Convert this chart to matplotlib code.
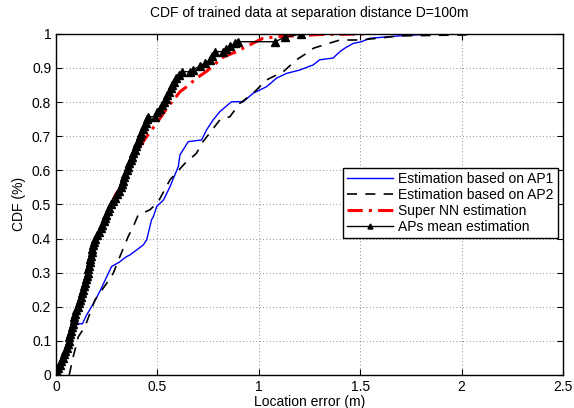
import matplotlib
matplotlib.use('Agg')
import matplotlib.pyplot as plt

plt.rcParams['font.family'] = ['Liberation Sans', 'DejaVu Sans']

# values (x = location error in m, y = CDF)
ap1_x = [0, 0.04, 0.07, 0.1, 0.13, 0.15, 0.19, 0.22, 0.25, 0.274, 0.31, 0.348, 0.365, 0.43,
         0.447, 0.471, 0.48, 0.496, 0.512, 0.53, 0.562, 0.603, 0.611, 0.652, 0.718, 0.742,
         0.775, 0.808, 0.865, 0.923, 0.972, 1.038, 1.087, 1.136, 1.202, 1.268, 1.3, 1.366,
         1.4, 1.424, 1.465, 1.506, 1.547, 1.69, 1.81, 1.84]
ap1_y = [0, 0.05, 0.1, 0.15, 0.15, 0.175, 0.215, 0.25, 0.288, 0.318, 0.33, 0.347, 0.352, 0.381,
         0.396, 0.455, 0.464, 0.493, 0.503, 0.513, 0.552, 0.611, 0.645, 0.684, 0.689, 0.718,
         0.748, 0.772, 0.801, 0.801, 0.826, 0.845, 0.87, 0.884, 0.894, 0.909, 0.924, 0.929,
         0.948, 0.958, 0.972, 0.977, 0.987, 0.994, 0.998, 1.0]

ap2_x = [0.065, 0.085, 0.11, 0.143, 0.192, 0.25, 0.282, 0.315, 0.356, 0.381, 0.405, 0.463,
         0.504, 0.562, 0.635, 0.693, 0.718, 0.759, 0.808, 0.857, 0.906, 0.972, 1.038, 1.12,
         1.186, 1.235, 1.27, 1.333, 1.4, 1.5, 1.6, 1.69, 2.02, 2.05]
ap2_y = [0, 0.054, 0.112, 0.142, 0.22, 0.269, 0.298, 0.347, 0.406, 0.435, 0.469, 0.484,
         0.508, 0.572, 0.62, 0.65, 0.679, 0.71, 0.748, 0.757, 0.796, 0.826, 0.865, 0.889,
         0.924, 0.943, 0.958, 0.97, 0.982, 0.982, 0.988, 0.994, 0.997, 1.0]

nn_x = [0, 0.036, 0.072, 0.103, 0.138, 0.165, 0.185, 0.205, 0.235, 0.265, 0.295, 0.332, 0.37,
        0.414, 0.447, 0.496, 0.553, 0.611, 0.644, 0.693, 0.742, 0.791, 0.808, 0.89, 0.956,
        1.02, 1.1, 1.3, 1.55]
nn_y = [0, 0.05, 0.12, 0.19, 0.25, 0.31, 0.367, 0.41, 0.45, 0.49, 0.53, 0.562, 0.61,
        0.67, 0.699, 0.738, 0.787, 0.83, 0.845, 0.87, 0.89, 0.915, 0.928, 0.948, 0.968,
        0.987, 0.992, 0.998, 1.0]

mean_x = [0.0, 0.005, 0.012, 0.02, 0.027, 0.034, 0.04, 0.046, 0.052, 0.058, 0.062, 0.066,
          0.069, 0.073, 0.078, 0.083, 0.087, 0.091, 0.096, 0.1, 0.106, 0.112, 0.117, 0.123,
          0.129, 0.134, 0.139, 0.143, 0.148, 0.152, 0.156, 0.16, 0.163, 0.166, 0.169, 0.172,
          0.175, 0.177, 0.181, 0.186, 0.192, 0.202, 0.211, 0.22, 0.228, 0.235, 0.242, 0.248,
          0.255, 0.263, 0.272, 0.28, 0.29, 0.3, 0.312, 0.32, 0.326, 0.332, 0.337, 0.342,
          0.348, 0.355, 0.361, 0.368, 0.375, 0.381, 0.388, 0.394, 0.401, 0.408, 0.414, 0.421,
          0.428, 0.435, 0.442, 0.45, 0.455, 0.49, 0.5, 0.512, 0.522, 0.532, 0.541, 0.549,
          0.557, 0.565, 0.574, 0.583, 0.592, 0.605, 0.619, 0.66, 0.675, 0.709, 0.735, 0.759,
          0.77, 0.783, 0.823, 0.84, 0.857, 0.882, 0.898, 1.08, 1.128, 1.21]
mean_y = [0.0, 0.01, 0.02, 0.03, 0.04, 0.05, 0.06, 0.07, 0.08, 0.09, 0.1, 0.11,
          0.12, 0.13, 0.14, 0.15, 0.16, 0.17, 0.18, 0.19, 0.2, 0.21, 0.22, 0.23,
          0.24, 0.25, 0.26, 0.27, 0.28, 0.29, 0.3, 0.31, 0.32, 0.33, 0.34, 0.35,
          0.36, 0.37, 0.38, 0.39, 0.4, 0.41, 0.42, 0.43, 0.44, 0.45, 0.46, 0.47,
          0.48, 0.49, 0.5, 0.51, 0.52, 0.53, 0.54, 0.55, 0.56, 0.57, 0.58, 0.59,
          0.6, 0.61, 0.62, 0.63, 0.64, 0.65, 0.66, 0.67, 0.68, 0.69, 0.7, 0.71,
          0.72, 0.73, 0.74, 0.75, 0.757, 0.757, 0.77, 0.78, 0.79, 0.8, 0.81, 0.82,
          0.83, 0.84, 0.85, 0.86, 0.87, 0.88, 0.889, 0.889, 0.895, 0.905, 0.915, 0.924,
          0.935, 0.948, 0.948, 0.955, 0.963, 0.972, 0.977, 0.977, 0.99, 1.0]

x_ticks = [0, 0.5, 1, 1.5, 2, 2.5]
y_ticks = [0, 0.1, 0.2, 0.3, 0.4, 0.5, 0.6, 0.7, 0.8, 0.9, 1]

fig = plt.figure(figsize=(5.74, 4.08), dpi=100)
ax = fig.add_axes([0.0976, 0.081, 0.8833, 0.836])

ax.plot(ap1_x, ap1_y, color='blue', lw=1.0, label='Estimation based on AP1')
ax.plot(ap2_x, ap2_y, color='black', lw=1.2, ls=(0, (6, 5)), label='Estimation based on AP2')
ax.plot(nn_x, nn_y, color='red', lw=2.2, ls=(0, (5, 2, 1, 2)), label='Super NN estimation')
ax.plot(mean_x, mean_y, color='black', lw=1.0, marker='^', ms=6, label='APs mean estimation')

ax.set_xlim(0, 2.5)
ax.set_ylim(0, 1)
ax.set_xticks(x_ticks)
ax.set_xticklabels(['0', '0.5', '1', '1.5', '2', '2.5'])
ax.set_yticks(y_ticks)
ax.set_yticklabels(['0', '0.1', '0.2', '0.3', '0.4', '0.5', '0.6', '0.7', '0.8', '0.9', '1'])
ax.tick_params(direction='in', top=True, right=True, labelsize=10, length=4)
ax.grid(True, ls=(0, (1, 3)), color='black', lw=0.6, alpha=0.6)
for s in ax.spines.values():
    s.set_linewidth(1.0)

ax.set_xlabel('Location error (m)', fontsize=10, labelpad=1)
ax.set_ylabel('CDF (%)', fontsize=10, labelpad=4)
ax.set_title('CDF of trained data at separation distance D=100m', fontsize=10, pad=12)

leg = ax.legend(loc='upper right', bbox_to_anchor=(0.99, 0.607), fontsize=10,
                handlelength=3.3, labelspacing=0.15, borderpad=0.3, handletextpad=0.4,
                markerscale=0.6, fancybox=False, framealpha=1, edgecolor='black',
                borderaxespad=0)
leg.get_frame().set_linewidth(1.0)

plt.savefig('out.png', dpi=100)
